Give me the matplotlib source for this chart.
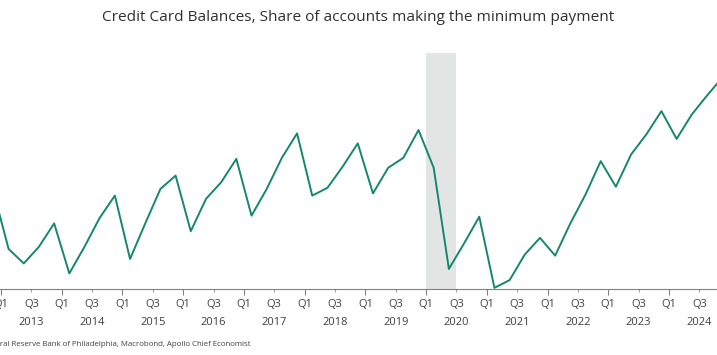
import numpy as np
import matplotlib.pyplot as plt
from matplotlib.transforms import blended_transform_factory

# Dados trimestrais (Q4 2012 a Q4 2024)
trimestres = [(2012, 4)] + [(a, q) for a in range(2013, 2025) for q in range(1, 5)]
valores = [9.68,
           9.16, 9.03, 9.18, 9.39,   # 2013
           8.94, 9.18, 9.44, 9.64,   # 2014
           9.07, 9.39, 9.70, 9.82,   # 2015
           9.32, 9.61, 9.76, 9.97,   # 2016
           9.46, 9.70, 9.98, 10.20,  # 2017
           9.64, 9.71, 9.90, 10.11,  # 2018
           9.66, 9.89, 9.98, 10.23,  # 2019
           9.89, 8.98, 9.21, 9.45,   # 2020
           8.81, 8.88, 9.11, 9.26,   # 2021
           9.10, 9.39, 9.65, 9.95,   # 2022
           9.72, 10.01, 10.19, 10.40,  # 2023
           10.15, 10.37, 10.54, 10.70]  # 2024
recessao = (2020.0, 2020.5)
anos_rotulo = list(range(2013, 2025))

titulo = "Credit Card Balances, Share of accounts making the minimum payment"
fonte = "Source: Federal Reserve Bank of Philadelphia, Macrobond, Apollo Chief Economist"

# posição de cada ponto: meio do trimestre
x = np.array([a + (q - 1) * 0.25 + 0.125 for a, q in trimestres])
y = np.array(valores)

plt.rcParams['font.family'] = ['Open Sans', 'DejaVu Sans']
cor_texto = '#404040'

fig = plt.figure(figsize=(7.17, 3.55), dpi=100)
ax = fig.add_axes([0, 0.186, 1, 0.665])

ax.axvspan(recessao[0], recessao[1], color='#e3e5e4', lw=0, zorder=0)
ax.plot(x, y, color='#15876b', lw=1.4, zorder=2)

ax.set_xlim(2013 - 1 / 60.73, 2013 + 716 / 60.73)
ax.set_ylim(8.8, 8.8 + 236 * 0.009)

for s in ['top', 'left', 'right']:
    ax.spines[s].set_visible(False)
ax.spines['bottom'].set_color('#808080')
ax.spines['bottom'].set_linewidth(0.8)
ax.set_yticks([])

ax.set_xticks([a for a in anos_rotulo])
ax.set_xticklabels(['Q1'] * len(anos_rotulo))
ax.set_xticks([a + 0.5 for a in anos_rotulo], minor=True)
ax.set_xticklabels(['Q3'] * len(anos_rotulo), minor=True)
ax.tick_params(axis='x', which='major', length=4, width=0.8, color='#808080',
               labelsize=8, labelcolor=cor_texto, pad=3)
ax.tick_params(axis='x', which='minor', length=2, width=0.8, color='#a0a0a0',
               labelsize=8, labelcolor=cor_texto, pad=5)

trans = blended_transform_factory(ax.transData, ax.transAxes)
for a in anos_rotulo:
    ax.text(a + 0.5, -0.14, str(a), transform=trans, ha='center', va='center',
            fontsize=8, color=cor_texto)

fig.text(0.5, 0.95, titulo, ha='center', va='center', fontsize=11.1, color='#303030')
fig.text(251 / 717, 1 - 345 / 355, fonte, ha='right', va='center', fontsize=5.7,
         color=cor_texto)

fig.savefig('out.png', dpi=100)
